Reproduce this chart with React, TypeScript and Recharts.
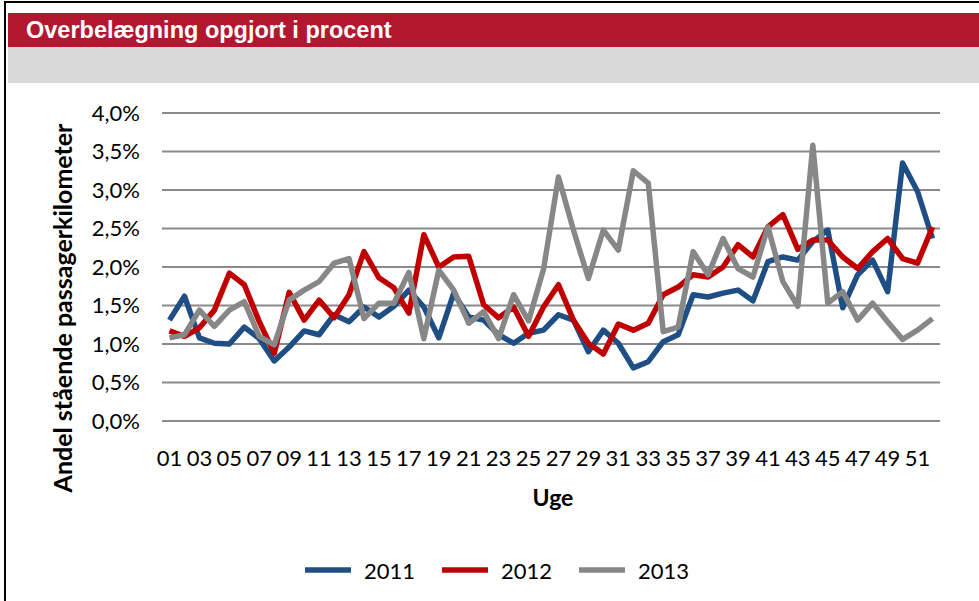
import React from 'react';
import { LineChart, Line, XAxis, YAxis, CartesianGrid, Legend } from 'recharts';

const weeks = [
  '01', '02', '03', '04', '05', '06', '07', '08', '09', '10',
  '11', '12', '13', '14', '15', '16', '17', '18', '19', '20',
  '21', '22', '23', '24', '25', '26', '27', '28', '29', '30',
  '31', '32', '33', '34', '35', '36', '37', '38', '39', '40',
  '41', '42', '43', '44', '45', '46', '47', '48', '49', '50',
  '51', '52'
];

// andel stående passagerkilometer i procent, pr. uge
const share2011 = [
  1.31, 1.62, 1.08, 1.01, 1.00, 1.22, 1.07, 0.78, 0.96, 1.17,
  1.12, 1.38, 1.29, 1.48, 1.35, 1.49, 1.70, 1.48, 1.08, 1.66,
  1.35, 1.31, 1.12, 1.01, 1.14, 1.18, 1.38, 1.31, 0.90, 1.18,
  1.01, 0.69, 0.77, 1.03, 1.12, 1.64, 1.61, 1.66, 1.70, 1.56,
  2.07, 2.13, 2.09, 2.33, 2.48, 1.47, 1.90, 2.09, 1.68, 3.35,
  2.98, 2.37
];
const share2012 = [
  1.17, 1.10, 1.21, 1.44, 1.92, 1.77, 1.29, 0.88, 1.67, 1.31,
  1.57, 1.34, 1.64, 2.20, 1.86, 1.73, 1.40, 2.42, 2.00, 2.13,
  2.14, 1.51, 1.34, 1.48, 1.10, 1.48, 1.77, 1.31, 1.01, 0.87,
  1.26, 1.18, 1.27, 1.64, 1.74, 1.90, 1.87, 2.00, 2.29, 2.13,
  2.52, 2.68, 2.23, 2.35, 2.35, 2.13, 1.98, 2.20, 2.37, 2.11,
  2.05, 2.52
];
const share2013 = [
  1.08, 1.12, 1.44, 1.23, 1.44, 1.55, 1.10, 0.99, 1.57, 1.70,
  1.81, 2.05, 2.11, 1.33, 1.53, 1.53, 1.93, 1.07, 1.96, 1.70,
  1.27, 1.42, 1.07, 1.64, 1.30, 1.97, 3.17, 2.48, 1.85, 2.48,
  2.22, 3.25, 3.09, 1.16, 1.22, 2.20, 1.90, 2.37, 1.98, 1.87,
  2.52, 1.81, 1.49, 3.58, 1.53, 1.68, 1.31, 1.53, 1.29, 1.06,
  1.18, 1.33
];
const yTicks = [0, 0.5, 1, 1.5, 2, 2.5, 3, 3.5, 4];

const data = weeks.map((week, i) => ({
  week,
  y2011: share2011[i],
  y2012: share2012[i],
  y2013: share2013[i]
}));

const FONT = 'Lato, "Open Sans", sans-serif';

const pct = (v: number) => v.toFixed(1).replace('.', ',') + '%';

const renderLegend = (props: any) => {
  const { payload = [] } = props;
  return (
    <div style={{ display: 'flex', alignItems: 'center', height: 30, paddingLeft: 305 }}>
      {payload.map((entry: any) => (
        <div key={entry.value} style={{ display: 'flex', alignItems: 'center', marginRight: 27 }}>
          <svg width={46} height={10}>
            <line x1={0} y1={5} x2={46} y2={5} stroke={entry.color} strokeWidth={5.5} />
          </svg>
          <span style={{ marginLeft: 13, fontFamily: FONT, fontSize: 22, color: '#000' }}>
            {entry.value}
          </span>
        </div>
      ))}
    </div>
  );
};

const renderYTitle = () => (
  <text
    x={62}
    y={308}
    transform='rotate(-90 62 308)'
    textAnchor='middle'
    dominantBaseline='central'
    fontFamily={FONT}
    fontWeight={700}
    fontSize={25}
    fill='#000'
  >
    Andel stående passagerkilometer
  </text>
);

const renderXTitle = () => (
  <text
    x={553}
    y={497}
    textAnchor='middle'
    dominantBaseline='central'
    fontFamily={FONT}
    fontWeight={700}
    fontSize={23}
    fill='#000'
  >
    Uge
  </text>
);

export default function App() {
  return (
    <div style={{ position: 'absolute', left: 0, top: 0, width: 979, height: 601, background: '#fff', overflow: 'hidden' }}>
      {/* ramme */}
      <div style={{ position: 'absolute', left: 4, top: 1, width: 975, borderTop: '2px solid #000' }} />
      <div style={{ position: 'absolute', left: 4, top: 1, height: 600, borderLeft: '2px solid #000' }} />
      <div style={{ position: 'absolute', left: 8, top: 13, width: 971, height: 34, background: '#b3172f' }} />
      <div
        style={{
          position: 'absolute', left: 26, top: 13, height: 34, lineHeight: '34px',
          color: '#fff', fontFamily: '"Liberation Sans", Arial, sans-serif', fontWeight: 700, fontSize: 23.5
        }}
      >
        Overbelægning opgjort i procent
      </div>
      <div style={{ position: 'absolute', left: 8, top: 47, width: 971, height: 36, background: '#d9d9d9' }} />

      <div style={{ position: 'absolute', left: 0, top: 0 }}>
        <LineChart
          width={979}
          height={601}
          data={data}
          margin={{ top: 113, right: 39, bottom: 120, left: 102 }}
        >
          <CartesianGrid vertical={false} stroke='#8a8a8a' strokeWidth={2} />
          <XAxis
            dataKey='week'
            interval={1}
            height={60}
            tickLine={false}
            axisLine={false}
            tickMargin={23}
            padding={{ left: 7.5, right: 7.5 }}
            tick={{ fontFamily: FONT, fontSize: 22, fill: '#000' }}
            label={renderXTitle}
          />
          <YAxis
            width={60}
            domain={[0, 4]}
            ticks={yTicks}
            tickFormatter={pct}
            tickLine={false}
            axisLine={false}
            tickMargin={16}
            tick={{ fontFamily: FONT, fontSize: 22, fill: '#000' }}
            label={renderYTitle}
          />
          <Legend
            layout='vertical'
            align='center'
            verticalAlign='middle'
            content={renderLegend}
            wrapperStyle={{ top: 555, left: 0, width: 979 }}
          />
          <Line type='linear' dataKey='y2011' name='2011' stroke='#1f4e85' strokeWidth={5.5} dot={false} strokeLinejoin='round' isAnimationActive={false} />
          <Line type='linear' dataKey='y2012' name='2012' stroke='#c00000' strokeWidth={5.5} dot={false} strokeLinejoin='round' isAnimationActive={false} />
          <Line type='linear' dataKey='y2013' name='2013' stroke='#878787' strokeWidth={5.5} dot={false} strokeLinejoin='round' isAnimationActive={false} />
        </LineChart>
      </div>
    </div>
  );
}
